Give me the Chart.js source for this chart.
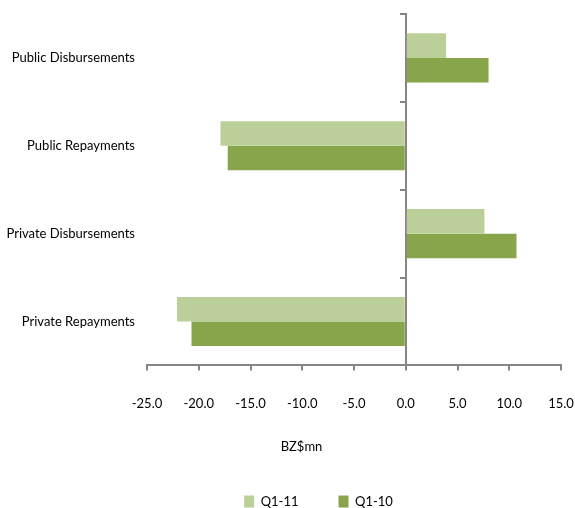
<!DOCTYPE html>
<html>
<head>
<meta charset="utf-8">
<script src="https://cdn.jsdelivr.net/npm/chart.js@4"></script>
<style>
  html, body { margin: 0; padding: 0; background: #ffffff; }
  #wrap { width: 575px; height: 508px; }
</style>
</head>
<body>
<div id="wrap"><canvas id="c"></canvas></div>
<script>
// External debt flows, first quarter comparison (BZ$ millions)
const categories = ['Public Disbursements', 'Public Repayments', 'Private Disbursements', 'Private Repayments'];
const q1_11 = [3.9, -17.9, 7.6, -22.1];
const q1_10 = [8.0, -17.2, 10.7, -20.7];
const xMin = -25, xMax = 15, xStep = 5;

const FONT = "Lato, 'Liberation Sans', sans-serif";
const FONT_SIZE = 13;
const AXIS_GREY = '#868686';

// nudges the axis title and legend sideways so they sit under the value axis
const shiftBlocks = {
  id: 'shiftBlocks',
  afterLayout(chart) {
    const lg = chart.legend, tb = chart.titleBlock;
    if (lg) { lg.left += 36; lg.right += 36; }
    if (tb) { tb.left += 19; tb.right += 19; }
  }
};

new Chart(document.getElementById('c'), {
  type: 'bar',
  data: {
    labels: categories,
    datasets: [
      { label: 'Q1-11', data: q1_11, backgroundColor: '#BBCF98', borderWidth: 0, yAxisID: 'y' },
      { label: 'Q1-10', data: q1_10, backgroundColor: '#88A54B', borderWidth: 0, yAxisID: 'y' }
    ]
  },
  plugins: [shiftBlocks],
  options: {
    indexAxis: 'y',
    responsive: true,
    maintainAspectRatio: false,
    animation: false,
    categoryPercentage: 0.56,
    barPercentage: 1.0,
    layout: { padding: { left: 4, right: 14, top: 14, bottom: 0 } },
    scales: {
      x: {
        type: 'linear',
        min: xMin,
        max: xMax,
        afterFit: s => { s.paddingLeft = 0; s.paddingRight = 0; },
        ticks: {
          stepSize: xStep,
          padding: 26,
          maxRotation: 0,
          color: '#000',
          font: { family: FONT, size: FONT_SIZE },
          callback: v => Number(v).toFixed(1)
        },
        grid: { drawOnChartArea: false, tickLength: 5, color: AXIS_GREY, lineWidth: 2 },
        border: { color: AXIS_GREY, width: 2 }
      },
      // category labels on the left edge
      y: {
        type: 'category',
        position: 'left',
        offset: true,
        afterFit: s => { s.width = 143; s.paddingTop = 0; s.paddingBottom = 0; },
        ticks: { padding: 12, color: '#000', font: { family: FONT, size: FONT_SIZE } },
        grid: { display: false, drawTicks: false },
        border: { display: false }
      },
      // axis line with category separators sitting at zero
      y2: {
        type: 'category',
        position: { x: 0 },
        offset: true,
        afterFit: s => { s.paddingTop = 0; s.paddingBottom = 0; },
        ticks: { display: false },
        grid: { offset: true, drawOnChartArea: false, tickLength: 5, color: AXIS_GREY, lineWidth: 2 },
        border: { color: AXIS_GREY, width: 2 }
      }
    },
    plugins: {
      title: {
        display: true,
        text: 'BZ$mn',
        position: 'bottom',
        weight: 500,
        color: '#000',
        font: { family: FONT, size: FONT_SIZE, weight: 'normal', lineHeight: 1 },
        padding: { top: 2, bottom: 2 }
      },
      legend: {
        position: 'bottom',
        maxHeight: 53,
        labels: {
          boxWidth: 10,
          boxHeight: 12,
          padding: 40,
          color: '#000',
          font: { family: FONT, size: FONT_SIZE }
        }
      },
      tooltip: { enabled: false }
    }
  }
});
</script>
</body>
</html>
